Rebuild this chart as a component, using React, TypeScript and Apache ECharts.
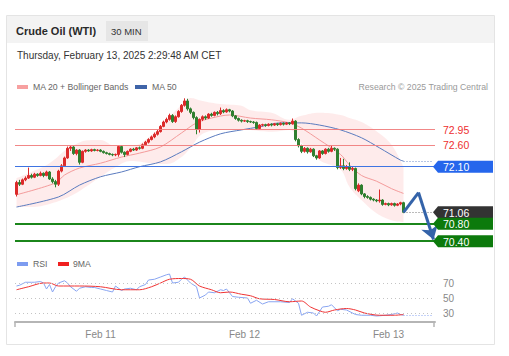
import React, { useEffect, useRef } from 'react';
import * as echarts from 'echarts';

// ---------- data ----------
const slotCount = 140; // 30-min slots on the x axis (candles + forecast space)
const categories: string[] = Array.from({ length: slotCount }, (_, i) => String(i));
const dayTicks = [
  { index: 28, label: 'Feb 11' },
  { index: 76, label: 'Feb 12' },
  { index: 124, label: 'Feb 13' },
];

// [open, close, low, high]
const candles: number[][] = [
  [71.47, 71.74, 71.42, 71.78], [71.74, 71.70, 71.66, 71.80], [71.70, 71.80, 71.68, 71.83], [71.80, 71.84, 71.77, 71.88],
  [71.84, 71.90, 71.82, 72.08], [71.90, 71.86, 71.83, 71.94], [71.86, 71.93, 71.84, 71.96], [71.93, 71.90, 71.87, 71.95],
  [71.90, 71.95, 71.88, 71.99], [71.95, 71.90, 71.86, 71.97], [71.90, 71.98, 71.88, 72.01], [71.98, 71.82, 71.80, 72.00],
  [71.82, 71.76, 71.72, 71.86], [71.76, 71.70, 71.63, 71.80], [71.70, 72.00, 71.66, 72.03], [72.00, 72.12, 71.97, 72.16],
  [72.12, 72.30, 72.10, 72.33], [72.30, 72.52, 72.28, 72.56], [72.52, 72.55, 72.46, 72.57], [72.55, 72.40, 72.37, 72.57],
  [72.40, 72.48, 72.36, 72.50], [72.48, 72.20, 72.15, 72.50], [72.20, 72.45, 72.18, 72.47], [72.45, 72.48, 72.42, 72.50],
  [72.48, 72.46, 72.44, 72.50], [72.46, 72.49, 72.44, 72.51], [72.49, 72.47, 72.45, 72.51], [72.47, 72.48, 72.45, 72.50],
  [72.48, 72.45, 72.43, 72.50], [72.45, 72.42, 72.40, 72.47], [72.42, 72.40, 72.38, 72.44], [72.40, 72.38, 72.36, 72.42],
  [72.38, 72.37, 72.34, 72.40], [72.37, 72.38, 72.34, 72.40], [72.38, 72.56, 72.33, 72.58], [72.56, 72.43, 72.40, 72.58],
  [72.43, 72.38, 72.32, 72.45], [72.38, 72.45, 72.36, 72.47], [72.45, 72.50, 72.43, 72.52], [72.50, 72.48, 72.46, 72.53],
  [72.48, 72.53, 72.46, 72.55], [72.53, 72.52, 72.49, 72.56], [72.52, 72.60, 72.50, 72.63], [72.60, 72.66, 72.58, 72.69],
  [72.66, 72.72, 72.63, 72.75], [72.72, 72.78, 72.70, 72.81], [72.78, 72.84, 72.75, 72.88], [72.84, 72.90, 72.81, 72.94],
  [72.90, 73.02, 72.88, 73.05], [73.02, 73.12, 73.00, 73.15], [73.12, 73.18, 73.09, 73.22], [73.18, 73.27, 73.15, 73.31],
  [73.27, 73.13, 73.10, 73.30], [73.13, 73.24, 73.10, 73.27], [73.24, 73.36, 73.22, 73.39], [73.36, 73.50, 73.33, 73.53],
  [73.50, 73.60, 73.47, 73.66], [73.60, 73.42, 73.38, 73.65], [73.42, 73.34, 73.30, 73.45], [73.34, 73.22, 73.18, 73.36],
  [73.22, 72.95, 72.84, 73.25], [72.95, 73.18, 72.88, 73.20], [73.18, 73.24, 73.14, 73.27], [73.24, 73.21, 73.17, 73.27],
  [73.21, 73.30, 73.19, 73.32], [73.30, 73.27, 73.24, 73.33], [73.27, 73.34, 73.25, 73.36], [73.34, 73.31, 73.27, 73.37],
  [73.31, 73.38, 73.28, 73.45], [73.38, 73.35, 73.32, 73.41], [73.35, 73.40, 73.33, 73.43], [73.40, 73.37, 73.34, 73.42],
  [73.37, 73.26, 73.23, 73.39], [73.26, 73.20, 73.17, 73.28], [73.20, 73.16, 73.13, 73.22], [73.16, 73.14, 73.11, 73.18],
  [73.14, 73.15, 73.12, 73.17], [73.15, 73.13, 73.10, 73.17], [73.13, 73.12, 73.10, 73.15], [73.12, 73.11, 73.08, 73.14],
  [73.11, 72.97, 72.94, 73.13], [72.97, 73.05, 72.95, 73.07], [73.05, 73.06, 73.02, 73.08], [73.06, 73.04, 73.01, 73.08],
  [73.04, 73.07, 73.02, 73.09], [73.07, 73.05, 73.02, 73.09], [73.05, 73.08, 73.03, 73.10], [73.08, 73.06, 73.03, 73.10],
  [73.06, 73.09, 73.04, 73.11], [73.09, 73.07, 73.04, 73.11], [73.07, 73.10, 73.05, 73.12], [73.10, 73.08, 73.05, 73.12],
  [73.08, 73.14, 73.06, 73.20], [73.14, 72.72, 72.68, 73.16], [72.72, 72.58, 72.54, 72.75], [72.58, 72.45, 72.41, 72.60],
  [72.45, 72.52, 72.42, 72.55], [72.52, 72.44, 72.40, 72.54], [72.44, 72.50, 72.42, 72.53], [72.50, 72.35, 72.32, 72.52],
  [72.35, 72.30, 72.26, 72.37], [72.30, 72.46, 72.28, 72.48], [72.46, 72.40, 72.37, 72.48], [72.40, 72.50, 72.38, 72.52],
  [72.50, 72.45, 72.42, 72.53], [72.45, 72.52, 72.43, 72.58], [72.52, 72.50, 72.46, 72.54], [72.50, 72.08, 72.04, 72.52],
  [72.08, 72.12, 72.05, 72.30], [72.12, 72.06, 72.02, 72.28], [72.06, 72.10, 72.03, 72.14], [72.10, 72.04, 72.00, 72.20],
  [72.04, 72.06, 72.00, 72.10], [72.06, 71.60, 71.56, 72.08], [71.55, 71.68, 71.52, 71.72], [71.68, 71.48, 71.45, 71.70],
  [71.48, 71.42, 71.38, 71.50], [71.42, 71.40, 71.37, 71.45], [71.40, 71.36, 71.33, 71.42], [71.36, 71.34, 71.31, 71.38],
  [71.34, 71.32, 71.29, 71.36], [71.32, 71.34, 71.28, 71.58], [71.34, 71.24, 71.21, 71.36], [71.24, 71.26, 71.22, 71.28],
  [71.26, 71.23, 71.20, 71.28], [71.23, 71.26, 71.21, 71.28], [71.26, 71.22, 71.19, 71.28], [71.22, 71.25, 71.20, 71.27],
  [71.25, 71.28, 71.22, 71.30], [71.28, 71.06, 71.04, 71.30],
];

// [slot index, value]
const ma20: number[][] = [
  [0, 71.46], [13, 71.73], [16, 71.91], [21, 72.07], [28, 72.18], [35, 72.32], [41, 72.41], [48, 72.55],
  [55, 72.87], [60, 73.10], [65, 73.21], [71, 73.28], [78, 73.21], [85, 73.17], [91, 73.10], [95, 72.98],
  [101, 72.71], [108, 72.38], [111, 72.14], [115, 71.90], [120, 71.77], [125, 71.60], [129, 71.49],
];
const ma50: number[][] = [
  [0, 71.18], [14, 71.41], [21, 71.68], [28, 71.87], [35, 71.98], [41, 72.10], [48, 72.21], [55, 72.44],
  [61, 72.66], [68, 72.85], [75, 72.94], [81, 73.01], [88, 73.10], [95, 73.10], [101, 73.05], [108, 72.94],
  [115, 72.76], [121, 72.53], [128, 72.25], [129, 72.23],
];
const bbIndex = [0, 5, 11, 18, 25, 28, 33, 38, 45, 50, 55, 58, 62, 68, 75, 78, 85, 91, 95, 101, 108, 111, 115, 120, 125, 129];
const bbUpper = [71.84, 71.98, 72.18, 72.55, 72.71, 72.71, 72.57, 72.57, 72.82, 73.17, 73.51, 73.67, 73.60, 73.53, 73.49, 73.39, 73.33, 73.17, 73.26, 73.33, 73.28, 73.21, 73.12, 72.91, 72.60, 72.09];
const bbLower = [71.18, 71.18, 71.25, 71.43, 71.73, 71.87, 72.09, 72.23, 72.18, 72.16, 72.32, 72.53, 72.85, 72.94, 72.96, 72.94, 72.90, 72.94, 72.64, 72.25, 72.03, 71.64, 71.34, 71.04, 70.88, 70.84];

const rsi: number[][] = [
  [0, 66], [1, 67], [3, 71], [5, 71], [6, 71], [8, 72], [9, 70], [10, 62], [11, 68], [12, 58], [13, 65], [14, 70],
  [16, 73], [17, 70], [18, 65], [20, 59], [21, 63], [23, 65], [25, 64], [26, 64], [28, 62], [30, 60], [32, 58],
  [33, 66], [35, 60], [36, 62], [38, 63], [40, 61], [41, 65], [43, 68], [44, 74], [46, 75], [48, 78], [50, 81],
  [51, 82], [52, 70], [54, 71], [55, 75], [56, 78], [58, 70], [60, 65], [61, 50], [63, 54], [64, 58], [66, 57],
  [68, 61], [69, 60], [70, 62], [72, 52], [74, 51], [77, 50], [78, 43], [80, 47], [82, 42], [84, 45], [88, 45],
  [91, 44], [92, 49], [94, 43], [95, 27], [97, 31], [99, 30], [100, 26], [102, 38], [104, 39], [105, 41], [107, 33],
  [108, 35], [110, 34], [112, 30], [113, 28], [115, 27], [118, 27], [120, 26], [123, 27], [125, 28], [127, 30],
  [128, 28], [129, 27],
];
const rsiMa: number[][] = [
  [0, 61], [4, 65], [9, 70], [11, 70], [14, 66], [21, 66], [28, 65], [35, 61], [41, 61], [45, 65], [48, 70],
  [51, 75], [55, 76], [58, 75], [61, 66], [65, 61], [68, 57], [71, 58], [75, 55], [78, 53], [81, 49], [86, 48],
  [91, 45], [95, 46], [98, 38], [101, 33], [103, 31], [106, 34], [110, 36], [113, 34], [116, 30], [121, 27],
  [126, 27], [129, 28],
];
const rsiLevels = [70, 50, 30];

const resistanceLevels = [72.95, 72.6];
const pivotLevel = 72.1;
const lastPrice = 71.06;
const supportLevels = [70.8, 70.4];
const forecastPath: number[][] = [[129, 71.06], [134, 71.51], [139, 70.44]];

const titleText = 'Crude Oil (WTI)';
const periodText = '30 MIN';
const dateText = 'Thursday, February 13, 2025 2:29:48 AM CET';
const creditText = 'Research © 2025 Trading Central';

// ---------- component ----------
const FONT = '"Liberation Sans", Arial, sans-serif';
const RED = '#dc2a2a';
const GREEN = '#2f7f2f';
const ARROW = '#3463a9';

export default function App() {
  const ref = useRef<HTMLDivElement>(null);
  useEffect(() => {
    if (!ref.current) return;
    const chart = echarts.init(ref.current, undefined, { renderer: 'svg' });
    const lastIdx = candles.length - 1;
    const lastSlot = slotCount - 1;
    const bbLowerPairs = bbIndex.map((x, k) => [x, bbLower[k]]);
    const bbWidthPairs = bbIndex.map((x, k) => [x, +(bbUpper[k] - bbLower[k]).toFixed(3)]);
    const lastRsi = rsi[rsi.length - 1][1];
    const lastMa50 = ma50[ma50.length - 1][1];
    const tickIdx = dayTicks.map((d) => d.index);

    const option: any = {
      animation: false,
      grid: [
        { left: 15, top: 90, width: 420, height: 160 },
        { left: 15, top: 269.5, width: 420, height: 52.5 },
      ],
      xAxis: [
        { type: 'category', gridIndex: 0, data: categories, boundaryGap: true, show: false },
        {
          type: 'category', gridIndex: 1, data: categories, boundaryGap: true,
          axisLine: { lineStyle: { color: '#b5b5b5', width: 2 } },
          axisTick: { show: false },
          splitLine: { show: false },
          axisLabel: {
            interval: (i: number) => tickIdx.includes(i),
            formatter: (v: string, i: number) => {
              const d = dayTicks.find((t) => t.index === i);
              return d ? d.label : '';
            },
            color: '#888', fontSize: 10, fontFamily: FONT, margin: 7,
          },
        },
      ],
      yAxis: [
        { type: 'value', gridIndex: 0, min: 70.2, max: 73.85, show: false, splitLine: { show: false } },
        { type: 'value', gridIndex: 1, min: 18, max: 88, show: false, splitLine: { show: false } },
      ],
      series: [
        {
          type: 'line', name: 'bbLower', stack: 'bb', data: bbLowerPairs, symbol: 'none', smooth: 0.4,
          lineStyle: { opacity: 0 }, silent: true, z: 1,
        },
        {
          type: 'line', name: 'bbWidth', stack: 'bb', data: bbWidthPairs, symbol: 'none', smooth: 0.4,
          lineStyle: { opacity: 0 }, areaStyle: { color: 'rgba(249,165,165,0.32)' }, silent: true, z: 1,
        },
        {
          type: 'candlestick', name: 'price', data: candles, barWidth: 2, z: 3,
          itemStyle: { color: RED, color0: GREEN, borderColor: RED, borderColor0: GREEN, borderWidth: 1 },
        },
        {
          type: 'line', name: 'MA 20', data: ma20, symbol: 'none', smooth: 0.3, z: 2,
          lineStyle: { color: '#f49b9b', width: 1 },
          markLine: {
            silent: true, symbol: 'none', label: { show: false }, animation: false,
            data: [
              ...resistanceLevels.map((v) => ({ yAxis: v, lineStyle: { color: '#f07a7a', width: 1, type: 'solid', opacity: 0.9 } })),
              { yAxis: pivotLevel, lineStyle: { color: '#3f74e2', width: 1.2, type: 'solid' } },
              ...supportLevels.map((v) => ({ yAxis: v, lineStyle: { color: '#1b861b', width: 2, type: 'solid' } })),
              [
                { coord: [lastIdx, lastPrice], lineStyle: { color: '#777', width: 1, type: [1, 2] } },
                { coord: [lastSlot, lastPrice] },
              ],
            ],
          },
        },
        {
          type: 'line', name: 'MA 50', data: ma50, symbol: 'none', smooth: 0.3, z: 2,
          lineStyle: { color: '#5a7bbf', width: 1 },
          markLine: {
            silent: true, symbol: 'none', label: { show: false },
            data: [[
              { coord: [lastIdx, lastMa50], lineStyle: { color: '#6d8ccc', width: 1, type: [1, 2] } },
              { coord: [lastSlot, lastMa50] },
            ]],
          },
        },
        {
          type: 'line', name: 'forecast', data: forecastPath.slice(0, 2), symbol: 'none', z: 5,
          lineStyle: { color: ARROW, width: 3 },
          markLine: {
            silent: true, symbol: ['none', 'arrow'], symbolSize: 13, label: { show: false },
            lineStyle: { color: ARROW, width: 3, type: 'solid' },
            itemStyle: { color: ARROW },
            data: [[
              { coord: forecastPath[1], symbol: 'none' },
              { coord: forecastPath[2], symbol: 'arrow', symbolSize: 13, itemStyle: { color: ARROW } },
            ]],
          },
        },
        {
          type: 'line', name: 'RSI', xAxisIndex: 1, yAxisIndex: 1, data: rsi, symbol: 'none', z: 3,
          lineStyle: { color: '#8aa6f2', width: 1 },
          markLine: {
            silent: true, symbol: 'none',
            data: [
              ...rsiLevels.map((v) => ({
                yAxis: v,
                lineStyle: { color: '#c4c4c4', width: 1, type: [1, 3] },
                label: { show: true, position: 'end', formatter: String(v), color: '#888', fontSize: 10, fontFamily: FONT, distance: 8 },
              })),
              [
                { coord: [lastIdx, lastRsi], lineStyle: { color: '#8aa6f2', width: 1, type: [1, 2] }, label: { show: false } },
                { coord: [lastSlot, lastRsi] },
              ],
            ],
          },
        },
        {
          type: 'line', name: '9MA', xAxisIndex: 1, yAxisIndex: 1, data: rsiMa, symbol: 'none', smooth: 0.3, z: 4,
          lineStyle: { color: '#f03434', width: 1 },
        },
      ],
    };
    chart.setOption(option);

    const py = (v: number) => chart.convertToPixel({ yAxisIndex: 0 }, v) as number;
    const gridL = 15, gridR = 435;
    const boxL = gridR + 3, boxR = 493;
    const tag = (v: number, color: string) => {
      const y = py(v);
      return [
        {
          type: 'polygon', z: 100,
          shape: { points: [[gridR - 2, y], [boxL, y - 6], [boxR, y - 6], [boxR, y + 6], [boxL, y + 6]] },
          style: { fill: color },
        },
        {
          type: 'text', z: 101,
          style: { text: v.toFixed(2), x: boxL + 5, y: y + 0.5, fill: '#fff', fontSize: 10.5, fontFamily: FONT, align: 'left', verticalAlign: 'middle' },
        },
      ];
    };
    const plainTag = (v: number) => ({
      type: 'text', z: 101,
      style: { text: v.toFixed(2), x: boxL + 5, y: py(v) + 0.5, fill: '#ee3030', fontSize: 10.5, fontFamily: FONT, align: 'left', verticalAlign: 'middle' },
    });
    const rsiAxisY = 322;

    const graphic: any[] = [
      { type: 'rect', z: -10, shape: { x: 6.5, y: 15.5, width: 488, height: 329 }, style: { fill: '#fff', stroke: '#e4e4e4', lineWidth: 1 } },
      { type: 'rect', z: -9, shape: { x: 7, y: 16, width: 487, height: 27 }, style: { fill: '#f3f3f3' } },
      { type: 'rect', z: -8, shape: { x: 106, y: 21, width: 42, height: 20 }, style: { fill: '#e6e6e6' } },
      { type: 'text', style: { text: titleText, x: 16, y: 31, fill: '#2a2a2a', fontSize: 11, fontWeight: 'bold', fontFamily: FONT, verticalAlign: 'middle' } },
      { type: 'text', style: { text: periodText, x: 111, y: 31, fill: '#333', fontSize: 9.5, fontFamily: FONT, verticalAlign: 'middle' } },
      { type: 'text', style: { text: dateText, x: 17, y: 55, fill: '#333', fontSize: 10, fontFamily: FONT, verticalAlign: 'middle' } },
      // main legend
      { type: 'rect', shape: { x: 17, y: 85, width: 11, height: 4 }, style: { fill: '#f7a0a0' } },
      { type: 'text', style: { text: 'MA 20 + Bollinger Bands', x: 33, y: 87, fill: '#666', fontSize: 8.7, fontFamily: FONT, verticalAlign: 'middle' } },
      { type: 'rect', shape: { x: 135, y: 85, width: 12, height: 4 }, style: { fill: '#3f64a8' } },
      { type: 'text', style: { text: 'MA 50', x: 152, y: 87, fill: '#666', fontSize: 8.7, fontFamily: FONT, verticalAlign: 'middle' } },
      { type: 'text', style: { text: creditText, x: 488, y: 87, fill: '#9a9a9a', fontSize: 8.7, fontFamily: FONT, align: 'right', verticalAlign: 'middle' } },
      // RSI legend
      { type: 'rect', shape: { x: 17, y: 262, width: 11, height: 4 }, style: { fill: '#7d9cf0' } },
      { type: 'text', style: { text: 'RSI', x: 33, y: 264, fill: '#666', fontSize: 8.7, fontFamily: FONT, verticalAlign: 'middle' } },
      { type: 'rect', shape: { x: 58, y: 262, width: 11, height: 4 }, style: { fill: '#f02020' } },
      { type: 'text', style: { text: '9MA', x: 73, y: 264, fill: '#666', fontSize: 8.7, fontFamily: FONT, verticalAlign: 'middle' } },
      // axis end ticks
      { type: 'line', shape: { x1: gridL, y1: rsiAxisY, x2: gridL, y2: rsiAxisY + 5 }, style: { stroke: '#b5b5b5', lineWidth: 1.5 } },
      { type: 'line', shape: { x1: gridR - 1, y1: rsiAxisY, x2: gridR - 1, y2: rsiAxisY + 5 }, style: { stroke: '#b5b5b5', lineWidth: 1.5 } },
      ...resistanceLevels.map(plainTag),
      ...tag(pivotLevel, '#2566ec'),
      ...tag(lastPrice, '#333333'),
      ...supportLevels.flatMap((v) => tag(v, '#0c7a0c')),
    ];
    chart.setOption({ graphic });

    return () => chart.dispose();
  }, []);

  return (
    <div
      ref={ref}
      style={{ position: 'fixed', left: 0, top: 0, width: 509, height: 356, background: '#fff' }}
    />
  );
}
